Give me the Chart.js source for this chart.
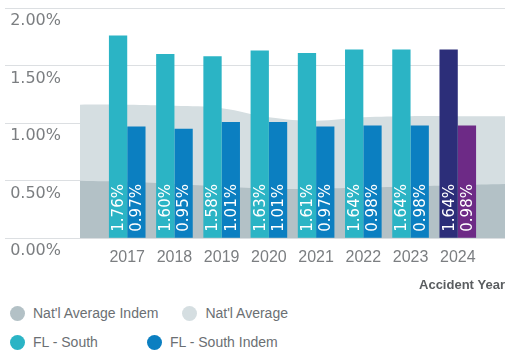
<!DOCTYPE html>
<html>
<head>
<meta charset="utf-8">
<script src="https://cdn.jsdelivr.net/npm/chart.js@4.4.0/dist/chart.umd.min.js"></script>
<style>
  body { margin: 0; background: #fff; width: 505px; height: 352px; overflow: hidden; font-family: "Liberation Sans", Arial, sans-serif; }
  #chartWrap { position: relative; width: 505px; height: 296px; }
  #legend { position: absolute; left: 10px; top: 304px; width: 330px; }
  .lg-item { display: inline-flex; align-items: center; height: 18px; min-width: 113px; margin: 0 24px 11px 0; vertical-align: top; }
  .lg-dot { width: 15px; height: 15px; border-radius: 50%; margin-right: 8px; flex: none; }
  .lg-text { font-size: 14px; color: #6b6f73; white-space: nowrap; }
</style>
</head>
<body>
<div id="chartWrap"><canvas id="cntAY_Chart"></canvas></div>
<div id="legend"></div>
<script>
  // blank first/last slots: the national areas run half a column past 2017 and 2024
  const years = ['', '2017', '2018', '2019', '2020', '2021', '2022', '2023', '2024', ''];
  const flSouth = [null, 1.76, 1.60, 1.58, 1.63, 1.61, 1.64, 1.64, 1.64, null];
  const flSouthIndem = [null, 0.97, 0.95, 1.01, 1.01, 0.97, 0.98, 0.98, 0.98, null];
  const natlAverage = [1.16, 1.16, 1.15, 1.13, 1.05, 1.02, 1.05, 1.06, 1.06, 1.06];
  const natlAverageIndem = [0.50, 0.49, 0.47, 0.45, 0.43, 0.43, 0.44, 0.45, 0.46, 0.47];
  const yTicks = [0, 0.5, 1, 1.5, 2];

  const colTeal = '#2bb4c5', colBlue = '#0b7fc1', colNavy = '#2c2e79', colPurple = '#6d2a86';
  const barColors = function(normal, last) {
    return years.map(function(y) { return y === '2024' ? last : normal; });
  };

  // white percentages written up the inside of each bar
  const barValueLabels = {
    id: 'barValueLabels',
    afterDatasetsDraw(chart) {
      const ctx = chart.ctx;
      chart.data.datasets.forEach(function(ds, i) {
        if (ds.type !== 'bar') return;
        chart.getDatasetMeta(i).data.forEach(function(bar, j) {
          const v = ds.data[j];
          if (v == null) return;
          ctx.save();
          ctx.translate(bar.x, bar.base - 6);
          ctx.rotate(-Math.PI / 2);
          ctx.fillStyle = '#ffffff';
          ctx.font = '15px "DejaVu Sans"';
          ctx.textAlign = 'left';
          ctx.textBaseline = 'middle';
          ctx.fillText(v.toFixed(2) + '%', 0, 1);
          ctx.restore();
        });
      });
    }
  };

  const config = {
    type: 'bar',
    data: {
      labels: years,
      datasets: [
        { type: 'line', label: "Nat'l Average Indem", data: natlAverageIndem, order: 1,
          backgroundColor: '#b3c1c6', borderWidth: 0, pointRadius: 0, fill: 'origin', tension: 0.4 },
        { type: 'line', label: "Nat'l Average", data: natlAverage, order: 2,
          backgroundColor: '#d5dee1', borderWidth: 0, pointRadius: 0, fill: 'origin', tension: 0.4 },
        { type: 'bar', label: 'FL - South', data: flSouth, order: 0,
          backgroundColor: barColors(colTeal, colNavy) },
        { type: 'bar', label: 'FL - South Indem', data: flSouthIndem, order: 0,
          backgroundColor: barColors(colBlue, colPurple) }
      ]
    },
    options: {
      responsive: true,
      maintainAspectRatio: false,
      animation: false,
      datasets: { bar: { categoryPercentage: 0.775, barPercentage: 1.0 } },
      layout: { padding: { left: 5, right: 0, top: 8, bottom: 3 } },
      plugins: { legend: { display: false }, tooltip: { enabled: false } },
      scales: {
        x: {
          offset: false,
          afterFit: function(scale) { scale.paddingLeft = 0; scale.paddingRight = 0; },
          grid: { display: false, drawTicks: false },
          border: { display: false },
          ticks: { color: '#7b7e81', font: { family: '"Liberation Sans", Arial', size: 16 }, padding: 10, maxRotation: 0, autoSkip: false },
          title: { display: true, text: 'Accident Year', align: 'end', color: '#5a5d60',
            font: { family: '"Liberation Sans", Arial', size: 13, weight: 'bold' }, padding: { top: 0, bottom: 0 } }
        },
        y: {
          min: 0,
          max: 2,
          afterBuildTicks: function(scale) { scale.ticks = yTicks.map(function(v) { return { value: v }; }); },
          afterFit: function(scale) { scale.width = 75; scale.paddingTop = 0; scale.paddingBottom = 0; },
          grid: { color: '#dcdfe2', tickLength: 75 },
          border: { display: false },
          ticks: {
            // labels sit under their grid line, right edge at x = 61
            crossAlign: 'near',
            padding: -56,
            labelOffset: 13,
            color: '#7b7e81',
            font: { family: '"DejaVu Sans"', size: 16, lineHeight: 1 },
            callback: function(v) { return Number(v).toFixed(2) + '%'; }
          }
        }
      }
    },
    plugins: [barValueLabels]
  };

  const ctx = document.getElementById('cntAY_Chart').getContext('2d');
  window.cntAY_Grafica = new Chart(ctx, config);

  // html legend so the items break into two rows like the original
  const lg = document.getElementById('legend');
  config.data.datasets.forEach(function(ds) {
    const c = Array.isArray(ds.backgroundColor) ? ds.backgroundColor[1] : ds.backgroundColor;
    const item = document.createElement('div');
    item.className = 'lg-item';
    item.innerHTML = '<span class="lg-dot" style="background:' + c + '"></span><span class="lg-text"></span>';
    item.querySelector('.lg-text').textContent = ds.label;
    lg.appendChild(item);
  });
</script>
</body>
</html>
